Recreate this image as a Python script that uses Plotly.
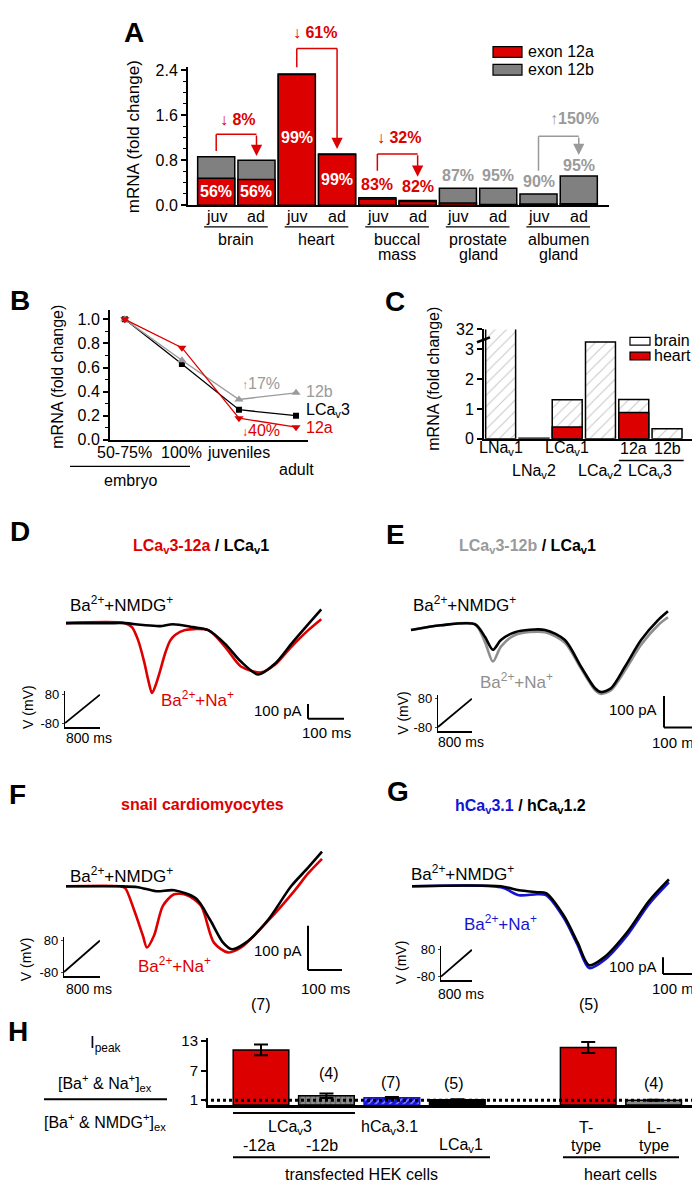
import plotly.graph_objects as go

W, H = 700, 1183


def fx(x):
    return x / W


def fy(y):
    return 1 - y / H


def xdom(a, b):
    return [a / W, b / W]


def ydom(top, bot):
    return [1 - bot / H, 1 - top / H]


RED = '#dd0000'
GREY = '#808080'
LGREY = '#9a9a9a'
BLUE = '#1414d2'
FONT = 'Liberation Sans, Arial, sans-serif'
NARROW = 'Liberation Sans Narrow, Arial Narrow, Liberation Sans, sans-serif'

# ---------------- data ----------------
# Panel A : mRNA fold change, exon 12a (red) + exon 12b (grey)
a_tissue = ['brain', 'heart', 'buccal mass', 'prostate gland', 'albumen gland']
a_stage = ['juv', 'ad']
a_exon12a = [0.48, 0.455, 2.32, 0.90, 0.112, 0.068, 0.04, 0.015, 0.02, 0.026]
a_exon12b = [0.38, 0.345, 0.01, 0.01, 0.023, 0.015, 0.26, 0.285, 0.18, 0.494]
a_pct = ['56%', '56%', '99%', '99%', '83%', '82%', '87%', '95%', '90%', '95%']
a_change = ['8%', '61%', '32%', '150%']

# Panel B : developmental time course
b_stage = ['50-75%', '100%', 'juveniles', 'adult']
b_lcav3 = [1.0, 0.63, 0.25, 0.20]
b_12b = [1.0, 0.66, 0.335, 0.39]
b_12a = [1.0, 0.765, 0.18, 0.105]
b_change = ['17%', '40%']

# Panel C : channel expression brain vs heart
c_channel = ['LNa<sub>v</sub>1', 'LNa<sub>v</sub>2', 'LCa<sub>v</sub>1',
             'LCa<sub>v</sub>2', '12a', '12b']
c_brain = [32.0, 0.02, 1.31, 3.24, 1.32, 0.34]
c_heart = [None, None, 0.40, None, 0.88, None]
c_ticks = ['0', '1', '2', '3', '32']

# Panels D-G : current traces (time in ms, current in pA)
d_t_black = [0, 117, 164, 214, 261, 297, 353, 395, 442, 486, 534, 581, 626, 673, 709]
d_i_black = [0, 0, 0, -13, -20, -7, -27, -47, -140, -260, -347, -273, -140, -7, 93]
d_t_red = [0, 164, 183, 200, 217, 228, 239, 250, 261, 275, 289, 303, 331, 395, 442,
           486, 542, 581, 626, 673, 709]
d_i_red = [0, 0, -27, -113, -260, -380, -473, -413, -327, -207, -120, -80, -47, -47,
           -160, -293, -333, -280, -160, -47, 27]

e_t = [0, 94, 200, 231, 256, 281, 325, 419, 481, 531, 575, 594, 625, 669, 719, 772, 803]
e_i_black = [-9, 6, 9, -31, -72, -41, -16, -9, -41, -125, -194, -206, -194, -125, -41, 22, 50]
e_i_grey = [-9, 6, 9, -47, -109, -62, -25, -16, -50, -131, -200, -212, -200, -137, -56, 6, 31]

f_t_black = [0, 159, 212, 265, 318, 382, 424, 462, 488, 529, 594, 662, 712, 753]
f_i_black = [0, 0, -2, -11, -9, -27, -76, -127, -142, -127, -76, 0, 42, 78]
f_t_red = [0, 159, 174, 200, 226, 238, 259, 285, 318, 356, 397, 435, 476, 515, 594,
           673, 712, 753]
f_i_red = [0, 0, -4, -53, -111, -138, -111, -44, -18, -20, -44, -127, -149, -138, -78,
           -9, 29, 62]

g_t = [0, 254, 306, 357, 383, 434, 473, 506, 549, 614, 677, 734]
g_i_black = [0, 0, -24, -35, -41, -176, -335, -471, -424, -276, -88, 41]
g_i_blue = [0, -6, -53, -47, -53, -190, -350, -488, -441, -294, -106, 24]

ramp_t = [0, 800]
ramp_v = [-80, 80]

# Panel H : peak current ratio
h_group = ['-12a', '-12b', 'hCa<sub>v</sub>3.1', 'LCa<sub>v</sub>1', 'T-type', 'L-type']
h_mean = [11.2, 1.9, 1.5, 1.1, 11.7, 1.0]
h_err = [1.1, 0.45, 0.15, 0.1, 1.1, 0.1]
h_n = [7, 4, 7, 5, 5, 4]

# ---------------- figure ----------------
fig = go.Figure()
annotations = []
shapes = []


def ann(text, x, y, size=16, color='black', xanchor='center', yanchor='middle',
        angle=0, family=FONT, xref='paper', yref='paper', bold=False):
    if bold:
        text = '<b>' + text + '</b>'
    annotations.append(dict(
        text=text, x=fx(x) if xref == 'paper' else x, y=fy(y) if yref == 'paper' else y,
        xref=xref, yref=yref, showarrow=False, xanchor=xanchor, yanchor=yanchor,
        textangle=angle, font=dict(size=size, color=color, family=family)))


def hline(x0, x1, y, width=1.5, color='black', xref='paper'):
    shapes.append(dict(type='line', xref=xref, yref='paper',
                       x0=fx(x0) if xref == 'paper' else x0,
                       x1=fx(x1) if xref == 'paper' else x1,
                       y0=fy(y), y1=fy(y), line=dict(color=color, width=width)))


def vline(x, y0, y1, width=1.5, color='black', xref='paper'):
    shapes.append(dict(type='line', xref=xref, yref='paper',
                       x0=fx(x) if xref == 'paper' else x, x1=fx(x) if xref == 'paper' else x,
                       y0=fy(y0), y1=fy(y1), line=dict(color=color, width=width)))


layout_axes = {}


def axis_common(**kw):
    d = dict(showgrid=False, zeroline=False, fixedrange=True, color='black',
             tickfont=dict(size=15, family=FONT, color='black'))
    d.update(kw)
    return d


# ----- Panel A -----
a_x = list(range(10))
a_total = [r + g for r, g in zip(a_exon12a, a_exon12b)]
fig.add_trace(go.Bar(x=a_x, y=a_total, width=0.92, xaxis='x', yaxis='y',
                     marker=dict(color=GREY, line=dict(color='black', width=1.5))))
fig.add_trace(go.Bar(x=a_x, y=a_exon12a, width=0.92, xaxis='x', yaxis='y',
                     marker=dict(color=RED, line=dict(color='black', width=1.5))))
layout_axes['xaxis'] = axis_common(domain=xdom(180, 601), range=[-0.7, 9.75], anchor='y',
                                   showline=True, linewidth=2, linecolor='black',
                                   showticklabels=False, ticks='')
layout_axes['yaxis'] = axis_common(domain=ydom(52, 192), range=[0, 2.45], anchor='x',
                                   showline=True, linewidth=2, linecolor='black',
                                   tickmode='linear', tick0=0, dtick=0.8, tickformat='.1f',
                                   ticks='outside', ticklen=5, tickwidth=1.5,
                                   minor=dict(dtick=0.2, ticks='outside', ticklen=3,
                                              tickwidth=1, tickcolor='black'),
                                   tickfont=dict(size=16, family=FONT, color='black'))
pct_y = [0.245, 0.245, 1.21, 0.455, 0.37, 0.33, 0.525, 0.525, 0.42, 0.70]
pct_col = ['white'] * 4 + [RED] * 2 + [LGREY] * 4
for i in range(10):
    ann(a_pct[i], i, pct_y[i], size=16, color=pct_col[i], xref='x', yref='y', bold=True)
    ann(a_stage[i % 2], i, 203, size=16, xref='x')
for g, name in enumerate(a_tissue):
    hline(2 * g - 0.3, 2 * g + 1.28, 214, width=1.3, xref='x')
    words = name.split(' ')
    for k, w in enumerate(words):
        ann(w, 2 * g + 0.5, 227 + 15 * k, size=16, xref='x')
ann('mRNA (fold change)', 125, 123, size=17, angle=-90)
ann('A', 126, 17, size=28, bold=True)
# change brackets: (juv idx, y_start, y_top, y_tip, colour, label x, label y, arrow)
brackets = [(0, 137, 120, 142, RED, 230, 105, '↓'),
            (2, 52, 33, 135, RED, 307, 17, '↓'),
            (4, 157, 140, 163, RED, 391, 123, '↓'),
            (8, 157, 122, 141, LGREY, 566, 104, '↑')]
for (i, ys, yt, ytip, col, lx, ly, arr), lab in zip(brackets, a_change):
    vline(i, ys, yt, width=1.5, color=col, xref='x')
    hline(i, i + 1, yt, width=1.5, color=col, xref='x')
    annotations.append(dict(x=i + 1, xref='x', y=fy(ytip), yref='paper', text='',
                            showarrow=True, ax=0, ay=-(ytip - yt), arrowhead=2,
                            arrowsize=1.5, arrowwidth=1.5, arrowcolor=col, standoff=0))
    sep = ' ' if arr == '↓' else ''
    ann('<span style="font-weight:normal">' + arr + '</span>' + sep + lab,
        lx, ly, size=16, color=col, bold=True)
# legend A
shapes.append(dict(type='rect', xref='paper', yref='paper', x0=fx(485), x1=fx(514),
                   y0=fy(31), y1=fy(42), fillcolor=RED, line=dict(color='black', width=1.2)))
shapes.append(dict(type='rect', xref='paper', yref='paper', x0=fx(485), x1=fx(514),
                   y0=fy(49), y1=fy(60), fillcolor=GREY, line=dict(color='black', width=1.2)))
ann('exon 12a', 518, 36.5, size=16, xanchor='left')
ann('exon 12b', 518, 54.5, size=16, xanchor='left')

# ----- Panel B -----
b_x = [0, 1, 2, 3]
fig.add_trace(go.Scatter(x=b_x, y=b_lcav3, xaxis='x2', yaxis='y2', mode='lines+markers',
                         line=dict(color='black', width=1.3),
                         marker=dict(symbol='square', size=6, color='black')))
fig.add_trace(go.Scatter(x=b_x, y=b_12b, xaxis='x2', yaxis='y2', mode='lines+markers',
                         line=dict(color=LGREY, width=1.3),
                         marker=dict(symbol='triangle-up', size=8, color=LGREY)))
fig.add_trace(go.Scatter(x=b_x, y=b_12a, xaxis='x2', yaxis='y2', mode='lines+markers',
                         line=dict(color=RED, width=1.3),
                         marker=dict(symbol='triangle-down', size=8, color=RED)))
layout_axes['xaxis2'] = axis_common(domain=xdom(102, 300), range=[-0.26, 3.21], anchor='y2',
                                    showline=True, linewidth=2, linecolor='black',
                                    showticklabels=False, ticks='')
layout_axes['yaxis2'] = axis_common(domain=ydom(298, 430), range=[0, 1.08], anchor='x2',
                                    showline=True, linewidth=2, linecolor='black',
                                    tickmode='linear', tick0=0, dtick=0.2, tickformat='.1f',
                                    ticks='outside', ticklen=5, tickwidth=1.5,
                                    minor=dict(dtick=0.1, ticks='outside', ticklen=3,
                                               tickwidth=1, tickcolor='black'),
                                    tickfont=dict(size=16, family=FONT, color='black'))
for k in range(3):
    ann(b_stage[k], k, 443, size=16, xref='x2')
ann(b_stage[3], 3, 460, size=16, xref='x2')
hline(62, 182, 457, width=1.3)
ann('embryo', 122, 471, size=16)
ann('mRNA (fold change)', 50, 366, size=16, angle=-90)
ann('B', 12, 289, size=28, bold=True)
ann('<span style="font-size:12px">↑</span>' + b_change[0], 253, 373, size=16, color=LGREY)
ann('<span style="font-size:12px">↓</span>' + b_change[1], 253, 421, size=16, color=RED)
ann('12b', 296, 381, size=16, color=LGREY, xanchor='left')
ann('LCa<sub>v</sub>3', 296, 400, size=16, xanchor='left')
ann('12a', 296, 418, size=16, color=RED, xanchor='left')

# ----- Panel C -----
c_x = list(range(6))
fig.add_trace(go.Bar(x=c_x, y=c_brain, width=0.9, xaxis='x3', yaxis='y3',
                     marker=dict(color='white', line=dict(color='black', width=1.5),
                                 pattern=dict(shape='/', fgcolor='#8c8c8c', bgcolor='white',
                                              size=8, solidity=0.12))))
fig.add_trace(go.Bar(x=c_x, y=c_heart, width=0.9, xaxis='x3', yaxis='y3',
                     marker=dict(color=RED, line=dict(color='black', width=1.5))))
c_top = 3.66
layout_axes['xaxis3'] = axis_common(domain=xdom(476, 685), range=[-0.5, 5.78], anchor='y3',
                                    showline=True, linewidth=2, linecolor='black',
                                    showticklabels=False, ticks='')
layout_axes['yaxis3'] = axis_common(domain=ydom(318, 429), range=[0, c_top], anchor='x3',
                                    showline=True, linewidth=2, linecolor='black',
                                    tickmode='array', tickvals=[0, 1, 2, 3, c_top],
                                    ticktext=c_ticks, ticks='outside', ticklen=5,
                                    tickwidth=1.5,
                                    tickfont=dict(size=16, family=FONT, color='black'))
shapes.append(dict(type='line', xref='paper', yref='paper', x0=fx(469), x1=fx(482),
                   y0=fy(331), y1=fy(326), line=dict(color='black', width=2.5)))
c_lab_y = [439, 462, 439, 462, 439, 439]
for k in range(6):
    ann(c_channel[k], k, c_lab_y[k], size=16, xref='x3')
hline(4 - 0.45, 5 + 0.5, 451, width=1.3, xref='x3')
ann('LCa<sub>v</sub>3', 4.5, 462, size=16, xref='x3')
ann('mRNA (fold change)', 426, 368, size=16, angle=-90)
ann('C', 387, 290, size=28, bold=True)
shapes.append(dict(type='rect', xref='paper', yref='paper', x0=fx(622), x1=fx(642),
                   y0=fy(326), y1=fy(334), fillcolor='white', line=dict(color='black', width=1.2)))
shapes.append(dict(type='rect', xref='paper', yref='paper', x0=fx(622), x1=fx(642),
                   y0=fy(341), y1=fy(349), fillcolor=RED, line=dict(color='black', width=1.2)))
ann('brain', 644, 329, size=16, xanchor='left')
ann('heart', 644, 344, size=16, xanchor='left')

# ----- Panels D-G traces -----
panels = {
    'D': dict(ax=4, xd=(50, 345), yd=(585, 735), t0=58, msp=100 / 36, i0=616, pap=100 / 15,
              sb=(300, 713)),
    'E': dict(ax=6, xd=(395, 695), yd=(585, 740), t0=403, msp=100 / 32, i0=620, pap=100 / 32,
              sb=(656, 722)),
    'F': dict(ax=8, xd=(50, 345), yd=(835, 990), t0=58, msp=100 / 34, i0=883, pap=100 / 45,
              sb=(300, 968)),
    'G': dict(ax=10, xd=(395, 695), yd=(835, 990), t0=404, msp=100 / 35, i0=883, pap=100 / 17,
              sb=(655, 972)),
}
traces = {
    'D': [(d_t_red, d_i_red, RED), (d_t_black, d_i_black, 'black')],
    'E': [(e_t, e_i_grey, '#8f8f8f'), (e_t, e_i_black, 'black')],
    'F': [(f_t_red, f_i_red, RED), (f_t_black, f_i_black, 'black')],
    'G': [(g_t, g_i_blue, BLUE), (g_t, g_i_black, 'black')],
}
for key, p in panels.items():
    n = p['ax']
    xr = [(p['xd'][0] - p['t0']) * p['msp'], (p['xd'][1] - p['t0']) * p['msp']]
    yr = [-(p['yd'][1] - p['i0']) * p['pap'], -(p['yd'][0] - p['i0']) * p['pap']]
    layout_axes['xaxis%d' % n] = dict(domain=xdom(*p['xd']), range=xr, visible=False,
                                      anchor='y%d' % n, fixedrange=True)
    layout_axes['yaxis%d' % n] = dict(domain=ydom(*p['yd']), range=yr, visible=False,
                                      anchor='x%d' % n, fixedrange=True)
    for t, i, col in traces[key]:
        fig.add_trace(go.Scatter(x=t, y=i, xaxis='x%d' % n, yaxis='y%d' % n, mode='lines',
                                 line=dict(color=col, width=2.6, shape='spline', smoothing=0.8)))
    # scale bar 100 ms / 100 pA
    sx = (p['sb'][0] - p['t0']) * p['msp']
    sy = -(p['sb'][1] - p['i0']) * p['pap']
    shapes.append(dict(type='line', xref='x%d' % n, yref='y%d' % n, x0=sx, x1=sx,
                       y0=sy, y1=sy + 100, line=dict(color='black', width=2)))
    shapes.append(dict(type='line', xref='x%d' % n, yref='y%d' % n, x0=sx, x1=sx + 100,
                       y0=sy, y1=sy, line=dict(color='black', width=2)))

insets = {
    'D': dict(ax=5, xd=(57, 92), yd=(685, 721), vl=(20, 701), ms=(81, 733)),
    'E': dict(ax=7, xd=(430, 464), yd=(689, 725), vl=(395, 707), ms=(453, 737)),
    'F': dict(ax=9, xd=(56, 92), yd=(934, 974), vl=(18, 957), ms=(81, 987)),
    'G': dict(ax=11, xd=(433, 464), yd=(944, 978), vl=(393, 960), ms=(453, 992)),
}
for key, q in insets.items():
    n = q['ax']
    layout_axes['xaxis%d' % n] = dict(domain=xdom(*q['xd']), range=[0, 800], anchor='y%d' % n,
                                      showline=True, linewidth=1.5, linecolor='black',
                                      showticklabels=False, ticks='', showgrid=False,
                                      zeroline=False, fixedrange=True)
    layout_axes['yaxis%d' % n] = dict(domain=ydom(*q['yd']), range=[-100, 100],
                                      anchor='x%d' % n, showline=True, linewidth=1.2,
                                      linecolor='black', tickmode='array',
                                      tickvals=[-80, 80], ticktext=['-80', '80'],
                                      ticks='outside', ticklen=2, tickwidth=1,
                                      showgrid=False, zeroline=False, fixedrange=True,
                                      tickfont=dict(size=13, family=NARROW, color='black'))
    fig.add_trace(go.Scatter(x=ramp_t, y=ramp_v, xaxis='x%d' % n, yaxis='y%d' % n,
                             mode='lines', line=dict(color='black', width=1.8)))
    ann('V (mV)', q['vl'][0], q['vl'][1], size=14, angle=-90, family=NARROW)
    ann('800 ms', q['ms'][0], q['ms'][1], size=14, family=NARROW)

NM = 'Ba<sup>2+</sup>+NMDG<sup>+</sup>'
NA = 'Ba<sup>2+</sup>+Na<sup>+</sup>'
ann(NM, 60, 597, size=17, xanchor='left', family=NARROW)
ann(NA, 190, 693, size=17, color=RED, family=NARROW)
ann(NM, 403, 597, size=17, xanchor='left', family=NARROW)
ann(NA, 509, 675, size=17, color='#8f8f8f', family=NARROW)
ann(NM, 60, 872, size=17, xanchor='left', family=NARROW)
ann(NA, 166, 963, size=17, color=RED, family=NARROW)
ann(NM, 401, 870, size=17, xanchor='left', family=NARROW)
ann(NA, 492, 920, size=17, color=BLUE, family=NARROW)
for xr_, y_, x2_, y2_ in [(296, 705, 318, 727), (651, 704, 668, 737),
                          (296, 948, 317, 987), (651, 964, 668, 987)]:
    ann('100 pA', xr_, y_, size=15, xanchor='right', family=NARROW)
    ann('100 ms', x2_, y2_, size=15, family=NARROW)

ann('D', 12, 523, size=28, bold=True)
ann('E', 387, 526, size=28, bold=True)
ann('F', 9, 790, size=28, bold=True)
ann('G', 390, 787, size=28, bold=True)
ann('<span style="color:%s">LCa<sub>v</sub>3-12a</span> / LCa<sub>v</sub>1' % RED,
    193, 538, size=16, bold=True)
ann('<span style="color:%s">LCa<sub>v</sub>3-12b</span> / LCa<sub>v</sub>1' % LGREY,
    519, 538, size=16, bold=True)
ann('snail cardiomyocytes', 194, 800, size=16, color=RED, bold=True)
ann('<span style="color:%s">hCa<sub>v</sub>3.1</span> / hCa<sub>v</sub>1.2' % BLUE,
    512, 802, size=16, bold=True)

# ----- Panel H -----
h_x = [0, 1, 2, 3, 5, 6]
fig.add_trace(go.Bar(
    x=h_x, y=h_mean, width=0.85, xaxis='x12', yaxis='y12',
    error_y=dict(type='data', array=h_err, color='black', thickness=2, width=7),
    marker=dict(color=[RED, '#8a8a8a', BLUE, 'black', RED, '#8a8a8a'],
                line=dict(color=['black', 'black', BLUE, 'black', 'black', 'black'], width=1.5),
                pattern=dict(shape=['', '|', '/', '', '', ''],
                             fgcolor=['black', '#333333', 'white', 'black', 'black', 'black'],
                             bgcolor=[RED, '#8a8a8a', BLUE, 'black', RED, '#8a8a8a'],
                             size=5, solidity=0.3))))
layout_axes['xaxis12'] = axis_common(domain=xdom(200, 698), range=[-0.81, 6.8], anchor='y12',
                                     showline=True, linewidth=2.5, linecolor='black',
                                     showticklabels=False, ticks='')
layout_axes['yaxis12'] = axis_common(domain=ydom(1037, 1105), range=[0, 13.6], anchor='x12',
                                     showline=True, linewidth=2, linecolor='black',
                                     tickmode='array', tickvals=[1, 7, 13], ticks='outside',
                                     ticklen=5, tickwidth=1.5,
                                     tickfont=dict(size=15, family=FONT, color='black'))
shapes.append(dict(type='line', xref='paper', yref='y12', x0=fx(197), x1=fx(700), y0=1, y1=1,
                   line=dict(color='black', width=3, dash='dot'), layer='above'))
n_pos = [(253, 1003), (321, 1073), (383, 1082), (446, 1083), (581, 1003), (646, 1083)]
for k, (xx, yy) in enumerate(n_pos):
    ann('(%d)' % h_n[k], xx, yy, size=16, family=NARROW)
hline(225, 347, 1113, width=2)
ann('LCa<sub>v</sub>3', 282, 1128, size=16, family=NARROW)
ann(h_group[2], 381, 1128, size=16, family=NARROW)
ann(h_group[0], 251, 1146, size=16, family=NARROW)
ann(h_group[1], 314, 1146, size=16, family=NARROW)
ann(h_group[3], 453, 1146, size=16, family=NARROW)
for lab, xx in [(h_group[4], 578), (h_group[5], 646)]:
    a, b = lab.split('-')
    ann(a + '-', xx, 1128, size=16, family=NARROW)
    ann(b, xx, 1146, size=16, family=NARROW)
hline(225, 482, 1158, width=2)
hline(555, 671, 1158, width=2)
ann('transfected HEK cells', 354, 1175, size=16, family=NARROW)
ann('heart cells', 612, 1175, size=16, family=NARROW)
ann('H', 10, 1030, size=28, bold=True)
ann('I<sub>peak</sub>', 97, 1043, size=17, family=NARROW)
ann('[Ba<sup>+</sup> & Na<sup>+</sup>]<sub>ex</sub>', 97, 1083, size=16, family=NARROW)
hline(36, 159, 1099, width=2)
ann('[Ba<sup>+</sup> & NMDG<sup>+</sup>]<sub>ex</sub>', 97, 1122, size=16, family=NARROW)

fig.update_layout(
    width=W, height=H, margin=dict(l=0, r=0, t=0, b=0),
    paper_bgcolor='white', plot_bgcolor='rgba(0,0,0,0)',
    barmode='overlay', showlegend=False,
    font=dict(family=FONT, color='black'),
    annotations=annotations, shapes=shapes, **layout_axes)

fig.write_html('out.html')
